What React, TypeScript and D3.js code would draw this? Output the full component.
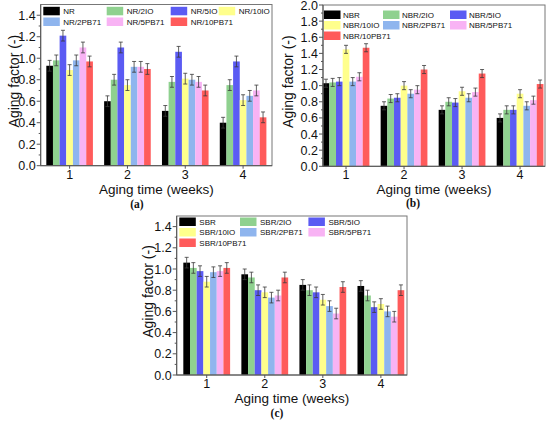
import { useEffect, useRef } from 'react';
import * as d3 from 'd3';

// aging time categories (weeks)
const weeks = [1, 2, 3, 4];
const yTicksShort = [0, 0.2, 0.4, 0.6, 0.8, 1.0, 1.2, 1.4];
const yTicksLong = [0, 0.2, 0.4, 0.6, 0.8, 1.0, 1.2, 1.4, 1.6, 1.8, 2.0];

// one colour per formulation, same order in all panels
const seriesColors = ['#000000', '#8fd18f', '#5b5bf3', '#ffff8c', '#8fb5ee', '#f8b3f4', '#ff5b5b'];

const nrLabels = ['NR', 'NR/2IO', 'NR/5IO', 'NR/10IO', 'NR/2PB71', 'NR/5PB71', 'NR/10PB71'];
const nrMeans = [
    [0.93, 0.60, 0.51, 0.40],
    [0.98, 0.80, 0.78, 0.75],
    [1.21, 1.10, 1.06, 0.97],
    [0.89, 0.75, 0.81, 0.61],
    [0.98, 0.92, 0.80, 0.65],
    [1.10, 0.92, 0.78, 0.70],
    [0.97, 0.90, 0.70, 0.45],
];
const nrErrors = [
    [0.05, 0.05, 0.05, 0.05],
    [0.05, 0.05, 0.05, 0.05],
    [0.05, 0.05, 0.05, 0.05],
    [0.05, 0.05, 0.05, 0.05],
    [0.05, 0.05, 0.05, 0.05],
    [0.05, 0.05, 0.05, 0.05],
    [0.05, 0.05, 0.05, 0.05],
];

const nbrLabels = ['NBR', 'NBR/2IO', 'NBR/5IO', 'NBR/10IO', 'NBR/2PB71', 'NBR/5PB71', 'NBR/10PB71'];
const nbrMeans = [
    [1.03, 0.75, 0.70, 0.60],
    [1.04, 0.84, 0.80, 0.70],
    [1.05, 0.85, 0.79, 0.70],
    [1.45, 1.00, 0.93, 0.90],
    [1.05, 0.90, 0.85, 0.75],
    [1.11, 0.95, 0.92, 0.82],
    [1.47, 1.20, 1.15, 1.02],
];
const nbrErrors = [
    [0.05, 0.05, 0.05, 0.05],
    [0.05, 0.05, 0.05, 0.05],
    [0.05, 0.05, 0.05, 0.05],
    [0.05, 0.05, 0.05, 0.05],
    [0.05, 0.05, 0.05, 0.05],
    [0.05, 0.05, 0.05, 0.05],
    [0.05, 0.05, 0.05, 0.05],
];

const sbrLabels = ['SBR', 'SBR/2IO', 'SBR/5IO', 'SBR/10IO', 'SBR/2PB71', 'SBR/5PB71', 'SBR/10PB71'];
const sbrMeans = [
    [1.06, 0.95, 0.85, 0.84],
    [1.01, 0.92, 0.80, 0.75],
    [0.98, 0.80, 0.78, 0.64],
    [0.88, 0.78, 0.71, 0.67],
    [0.97, 0.73, 0.65, 0.60],
    [0.98, 0.75, 0.58, 0.55],
    [1.01, 0.92, 0.83, 0.80],
];
const sbrErrors = [
    [0.05, 0.05, 0.05, 0.05],
    [0.05, 0.05, 0.05, 0.05],
    [0.05, 0.05, 0.05, 0.05],
    [0.05, 0.05, 0.05, 0.05],
    [0.05, 0.05, 0.05, 0.05],
    [0.05, 0.05, 0.05, 0.05],
    [0.05, 0.05, 0.05, 0.05],
];

interface PanelConfig {
    labels: string[];
    means: number[][];
    errors: number[][];
    yMax: number;
    yTicks: number[];
    xDomain: [number, number];
    left: number;
    right: number;
    top: number;
    bottom: number;
    yLabelX: number;
    legendRows: number[][];
    legendCols: number[];
    legendRowY: number[];
    legendGap: number;
    caption: string;
    captionX: number;
    captionY: number;
}

const SANS = "'Liberation Sans', Arial, Helvetica, sans-serif";
const SERIF = "'Liberation Serif', 'Times New Roman', serif";

function drawPanel(svg: d3.Selection<SVGSVGElement, unknown, null, undefined>, cfg: PanelConfig) {
    const x = d3.scaleLinear().domain(cfg.xDomain).range([cfg.left, cfg.right]);
    const y = d3.scaleLinear().domain([0, cfg.yMax]).range([cfg.bottom, cfg.top]);
    const g = svg.append('g');

    const groupWidth = 0.806;
    const barW = groupWidth / cfg.means.length;

    // bars
    cfg.means.forEach((series, si) => {
        g.selectAll(null)
            .data(series)
            .join('rect')
            .attr('x', (d, i) => x(weeks[i] - groupWidth / 2 + si * barW))
            .attr('width', x(barW) - x(0))
            .attr('y', d => y(d))
            .attr('height', d => y(0) - y(d))
            .attr('fill', seriesColors[si]);
    });

    // error bars
    cfg.means.forEach((series, si) => {
        const errs = cfg.errors[si];
        const cx = (i: number) => x(weeks[i] - groupWidth / 2 + (si + 0.5) * barW);
        const eb = g.selectAll(null).data(series).join('g')
            .attr('stroke', '#3a3a3a')
            .attr('stroke-width', 0.8);
        eb.append('line')
            .attr('x1', (d, i) => cx(i)).attr('x2', (d, i) => cx(i))
            .attr('y1', (d, i) => y(d - errs[i])).attr('y2', (d, i) => y(d + errs[i]));
        eb.append('line')
            .attr('x1', (d, i) => cx(i) - 2).attr('x2', (d, i) => cx(i) + 2)
            .attr('y1', (d, i) => y(d + errs[i])).attr('y2', (d, i) => y(d + errs[i]));
        eb.append('line')
            .attr('x1', (d, i) => cx(i) - 2).attr('x2', (d, i) => cx(i) + 2)
            .attr('y1', (d, i) => y(d - errs[i])).attr('y2', (d, i) => y(d - errs[i]));
    });

    // frame
    g.append('rect')
        .attr('x', cfg.left).attr('y', cfg.top)
        .attr('width', cfg.right - cfg.left).attr('height', cfg.bottom - cfg.top)
        .attr('fill', 'none').attr('stroke', '#777').attr('stroke-width', 1);
    g.append('line')
        .attr('x1', cfg.left).attr('x2', cfg.left).attr('y1', cfg.top).attr('y2', cfg.bottom)
        .attr('stroke', '#555');
    g.append('line')
        .attr('x1', cfg.left).attr('x2', cfg.right).attr('y1', cfg.bottom).attr('y2', cfg.bottom)
        .attr('stroke', '#555');

    // y ticks
    const minor = d3.range(0.1, cfg.yMax, 0.2);
    g.selectAll(null).data(minor).join('line')
        .attr('x1', cfg.left - 2).attr('x2', cfg.left)
        .attr('y1', d => y(d)).attr('y2', d => y(d))
        .attr('stroke', '#555');
    g.selectAll(null).data(cfg.yTicks).join('line')
        .attr('x1', cfg.left - 4).attr('x2', cfg.left)
        .attr('y1', d => y(d)).attr('y2', d => y(d))
        .attr('stroke', '#555');
    g.selectAll(null).data(cfg.yTicks).join('text')
        .attr('x', cfg.left - 5)
        .attr('y', d => y(d) + 4.5)
        .attr('text-anchor', 'end')
        .attr('font-family', SANS)
        .attr('font-size', 12.5)
        .attr('fill', '#111')
        .text(d => d.toFixed(1));

    // x ticks
    g.selectAll(null).data(weeks).join('line')
        .attr('x1', d => x(d)).attr('x2', d => x(d))
        .attr('y1', cfg.bottom).attr('y2', cfg.bottom + 3)
        .attr('stroke', '#555');
    g.selectAll(null).data(weeks).join('text')
        .attr('x', d => x(d))
        .attr('y', cfg.bottom + 13)
        .attr('text-anchor', 'middle')
        .attr('font-family', SANS)
        .attr('font-size', 12.5)
        .attr('fill', '#111')
        .text(d => d);

    // axis titles
    g.append('text')
        .attr('x', (cfg.left + cfg.right) / 2)
        .attr('y', cfg.bottom + 28)
        .attr('text-anchor', 'middle')
        .attr('font-family', SANS)
        .attr('font-size', 13.5)
        .attr('fill', '#111')
        .text('Aging time (weeks)');
    g.append('text')
        .attr('transform', `translate(${cfg.yLabelX},${(cfg.top + cfg.bottom) / 2 - 4}) rotate(-90)`)
        .attr('text-anchor', 'middle')
        .attr('dy', '0.35em')
        .attr('font-family', SANS)
        .attr('font-size', 14)
        .attr('fill', '#111')
        .text('Aging factor (-)');

    // legend
    cfg.legendRows.forEach((row, ri) => {
        row.forEach((si, ci) => {
            const lx = cfg.left + cfg.legendCols[ci];
            const ly = cfg.top + cfg.legendRowY[ri];
            g.append('rect')
                .attr('x', lx).attr('y', ly - 4)
                .attr('width', 16.5).attr('height', 8.5)
                .attr('fill', seriesColors[si]);
            g.append('text')
                .attr('x', lx + cfg.legendGap).attr('y', ly + 3)
                .attr('font-family', SANS)
                .attr('font-size', 8)
                .attr('fill', '#111')
                .text(cfg.labels[si]);
        });
    });

    // caption
    g.append('text')
        .attr('x', cfg.captionX).attr('y', cfg.captionY)
        .attr('text-anchor', 'middle')
        .attr('font-family', SERIF)
        .attr('font-weight', 'bold')
        .attr('font-size', 11.5)
        .attr('fill', '#111')
        .text(cfg.caption);
}

export default function App() {
    const svgRef = useRef<SVGSVGElement>(null);

    useEffect(() => {
        if (!svgRef.current) return;
        const svg = d3.select(svgRef.current);
        svg.selectAll('*').remove();

        drawPanel(svg, {
            labels: nrLabels, means: nrMeans, errors: nrErrors,
            yMax: 1.5, yTicks: yTicksShort, xDomain: [0.5, 4.5],
            left: 40.7, right: 272, top: 4.5, bottom: 165.7, yLabelX: 14,
            legendRows: [[0, 1, 2, 3], [4, 5, 6]],
            legendCols: [2.6, 66, 130, 178],
            legendRowY: [6.3, 17], legendGap: 20,
            caption: '(a)', captionX: 137, captionY: 208,
        });

        drawPanel(svg, {
            labels: nbrLabels, means: nbrMeans, errors: nbrErrors,
            yMax: 2.0, yTicks: yTicksLong, xDomain: [0.603, 4.43],
            left: 323, right: 545, top: 5, bottom: 166.3, yLabelX: 288,
            legendRows: [[0, 1, 2], [3, 4, 5], [6]],
            legendCols: [1, 60, 127],
            legendRowY: [9.5, 20, 30.5], legendGap: 19,
            caption: '(b)', captionX: 413, captionY: 207,
        });

        drawPanel(svg, {
            labels: sbrLabels, means: sbrMeans, errors: sbrErrors,
            yMax: 1.5, yTicks: yTicksShort, xDomain: [0.483, 4.45],
            left: 176.7, right: 407, top: 216, bottom: 375, yLabelX: 148,
            legendRows: [[0, 1, 2], [3, 4, 5], [6]],
            legendCols: [2.6, 63.3, 131.7],
            legendRowY: [5.5, 16, 26.5], legendGap: 20,
            caption: '(c)', captionX: 277, captionY: 417,
        });
    }, []);

    return (
        <svg
            ref={svgRef}
            width={550}
            height={425}
            style={{ position: 'absolute', left: 0, top: 0, background: '#fff' }}
        />
    );
}
